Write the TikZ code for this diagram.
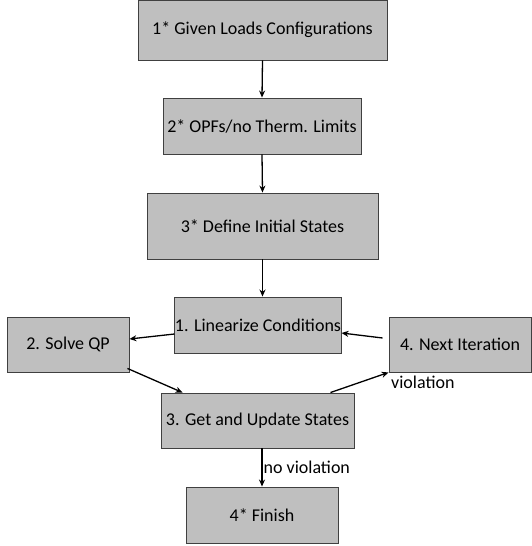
\documentclass[tikz,border=0pt]{standalone}
\usepackage{fontspec}
\setmainfont{Carlito}
\usetikzlibrary{arrows.meta,shadows}
\begin{document}
\begin{tikzpicture}[x=1pt,y=1pt,
  box/.style={draw=black!75, line width=0.9pt, fill=black!25, inner sep=0pt, align=center,
    font=\fontsize{18}{21}\selectfont,
    drop shadow={shadow xshift=1.2pt, shadow yshift=-1.2pt, fill=black!45, opacity=0.6}},
  conn/.style={-{Stealth[length=7pt,width=6pt]}, line width=1.3pt, black},
  lbl/.style={font=\fontsize{18}{21}\selectfont, inner sep=0pt, anchor=west}]
\useasboundingbox (0,0) rectangle (531,546);
% y_tikz = 546 - y_px
\node[box, minimum width=249pt, minimum height=60pt] (b1) at (262.5,516) {1* Given Loads Configurations};
\node[box, minimum width=198pt, minimum height=56pt] (b2) at (262,420) {2* OPFs/no Therm. Limits};
\node[box, minimum width=231pt, minimum height=66pt] (b3) at (262.5,320) {3* Define Initial States};
\node[box, minimum width=164pt, minimum height=56pt] (lin) at (258,221) {1. Linearize Conditions};
\node[box, minimum width=122pt, minimum height=55pt] (qp) at (68,201.5) {2. Solve QP};
\node[box, minimum width=142pt, minimum height=55pt] (nxt) at (460,201.5) {4. Next Iteration};
\node[box, minimum width=193pt, minimum height=55pt] (get) at (257.5,125.5) {3. Get and Update States};
\node[box, minimum width=152pt, minimum height=56pt] (fin) at (262,31) {4* Finish};

\draw[conn] (b1.south) -- (b2.north);
\draw[conn] (b2.south) -- (b3.north);
\draw[conn] (b3.south) -- (b3.south |- lin.north);
\draw[conn] ([yshift=-9pt]lin.west) -- ([yshift=5.5pt]qp.east);
\draw[conn] ([yshift=6.5pt,xshift=-6pt]nxt.west) -- ([yshift=-8pt]lin.east);
\draw[conn] ([yshift=4pt,xshift=-2pt]qp.south east) -- ([xshift=22pt]get.north west);
\draw[conn] ([xshift=-24pt]get.north east) -- (nxt.south west);
\draw[conn] ([xshift=4.5pt]get.south) -- node[lbl, right=1pt] {no violation} (fin.north);
\node[lbl] (viol) at (391,164) {violation};
\end{tikzpicture}
\end{document}
